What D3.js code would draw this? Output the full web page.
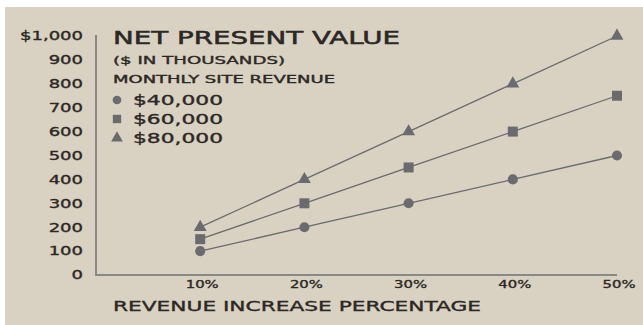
<!DOCTYPE html>
<html>
<head>
<meta charset="utf-8">
<script src="https://cdn.jsdelivr.net/npm/d3@7"></script>
<style>
  html, body { margin: 0; padding: 0; background: #fff; }
  svg text { font-family: "DejaVu Sans", sans-serif; fill: #2b2825; stroke: #2b2825; stroke-width: 0.35px; }
</style>
</head>
<body>
<svg id="chart" width="643" height="325"></svg>
<script>
const percents = [10, 20, 30, 40, 50];
const percentLabels = ["10%", "20%", "30%", "40%", "50%"];
const yTicks = [0, 100, 200, 300, 400, 500, 600, 700, 800, 900, 1000];
const seriesNames = ["$40,000", "$60,000", "$80,000"];
const npv40 = [100, 200, 300, 400, 500];
const npv60 = [150, 300, 450, 600, 750];
const npv80 = [200, 400, 600, 800, 1000];

const series = [
  { name: seriesNames[0], values: npv40, symbol: d3.symbolCircle, size: 80, legendSize: 60 },
  { name: seriesNames[1], values: npv60, symbol: d3.symbolSquare, size: 100, legendSize: 70 },
  { name: seriesNames[2], values: npv80, symbol: d3.symbolTriangle, size: 72, legendSize: 60 }
];

const ink = "#6b6a6e";
const svg = d3.select("#chart");

// background panel
svg.append("rect")
  .attr("x", 5).attr("y", 7)
  .attr("width", 638).attr("height", 318)
  .attr("fill", "#d9d1c1");

const x = d3.scaleLinear().domain([0, 50]).range([96, 617]);
const y = d3.scaleLinear().domain([0, 1000]).range([275, 36]);

// stretch text horizontally to mimic the wide display face
function stretch(sel, factor) {
  sel.each(function () {
    const len = this.getComputedTextLength();
    d3.select(this)
      .attr("textLength", len * factor)
      .attr("lengthAdjust", "spacingAndGlyphs");
  });
}
function fitWidth(sel, w) {
  sel.attr("textLength", w).attr("lengthAdjust", "spacingAndGlyphs");
}

// axes lines
svg.append("line")
  .attr("x1", x(0)).attr("x2", x(0))
  .attr("y1", y(1000) - 1).attr("y2", y(0) + 1)
  .attr("stroke", "#8b8988").attr("stroke-width", 2);
svg.append("line")
  .attr("x1", x(0) - 1).attr("x2", x(50))
  .attr("y1", y(0)).attr("y2", y(0))
  .attr("stroke", "#8b8988").attr("stroke-width", 2);

// y tick labels
const yLab = svg.append("g").selectAll("text")
  .data(yTicks)
  .join("text")
  .attr("x", 83)
  .attr("y", d => y(d))
  .attr("dy", "0.36em")
  .attr("text-anchor", "end")
  .attr("font-size", 12)
  .text(d => d === 1000 ? "$1,000" : String(d));
stretch(yLab, 1.5);

// x tick labels
const xLab = svg.append("g").selectAll("text")
  .data(percents)
  .join("text")
  .attr("x", d => x(d) + 2)
  .attr("y", 284)
  .attr("dy", "0.36em")
  .attr("text-anchor", "middle")
  .attr("font-size", 11)
  .text((d, i) => percentLabels[i]);
stretch(xLab, 1.35);

// x axis title
svg.append("text")
  .attr("x", 113).attr("y", 306)
  .attr("dy", "0.36em")
  .attr("font-size", 14)
  .text("REVENUE INCREASE PERCENTAGE")
  .call(fitWidth, 368);

// lines + markers
const line = d3.line()
  .x((d, i) => x(percents[i]))
  .y(d => y(d));

series.forEach(s => {
  svg.append("path")
    .attr("d", line(s.values))
    .attr("fill", "none")
    .attr("stroke", ink)
    .attr("stroke-width", 1.3);

  svg.append("g").selectAll("path")
    .data(s.values)
    .join("path")
    .attr("transform", (d, i) => `translate(${x(percents[i])},${y(d)})`)
    .attr("d", d3.symbol().type(s.symbol).size(s.size))
    .attr("fill", ink);
});

// title block
svg.append("text")
  .attr("x", 113).attr("y", 44)
  .attr("font-size", 18)
  .style("stroke-width", "0.5px")
  .text("NET PRESENT VALUE")
  .call(fitWidth, 287);
svg.append("text")
  .attr("x", 113).attr("y", 64)
  .attr("font-size", 11)
  .text("($ IN THOUSANDS)")
  .call(fitWidth, 172);
svg.append("text")
  .attr("x", 113).attr("y", 83)
  .attr("font-size", 10)
  .text("MONTHLY SITE REVENUE")
  .call(fitWidth, 222);

// legend
const legendY = [100, 119, 138];
series.forEach((s, i) => {
  svg.append("path")
    .attr("transform", `translate(117,${legendY[i]})`)
    .attr("d", d3.symbol().type(s.symbol).size(s.legendSize))
    .attr("fill", ink);
  svg.append("text")
    .attr("x", 133).attr("y", legendY[i])
    .attr("dy", "0.36em")
    .attr("font-size", 13.5)
    .text(s.name)
    .call(fitWidth, 90);
});
</script>
</body>
</html>
